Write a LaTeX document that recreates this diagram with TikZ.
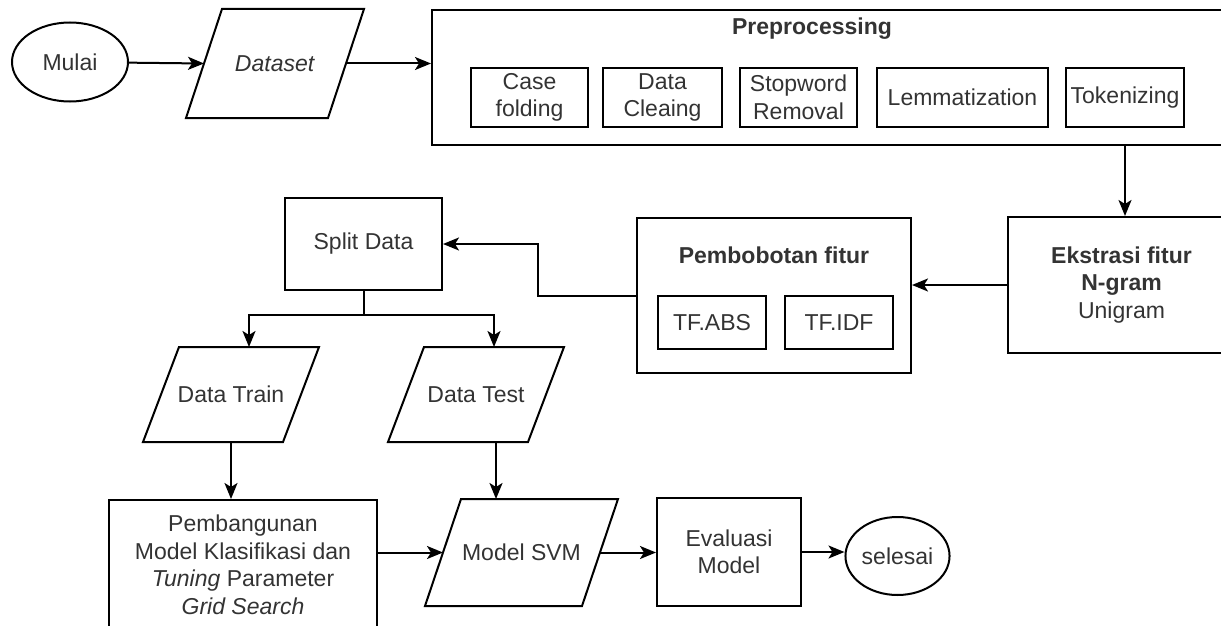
\documentclass[tikz,border=0pt]{standalone}
\usepackage{fontspec}
\setmainfont{Liberation Sans}
\usetikzlibrary{arrows.meta,positioning,shapes.geometric}

\begin{document}
\begin{tikzpicture}[x=1pt,y=-1pt,>={Stealth[length=16pt,width=13pt,inset=4pt]},
  line width=2pt,
  every node/.style={font=\fontsize{23}{27.5}\selectfont,text=black!80}]
  \tikzstyle{box}=[draw,rectangle,align=center,inner sep=2pt]
  \tikzstyle{io}=[rectangle,align=center,inner sep=2pt]
  \tikzstyle{term}=[draw,ellipse,inner sep=1pt]
  \tikzstyle{title}=[font=\fontsize{23}{27.5}\selectfont\bfseries]

  \useasboundingbox (0,0) rectangle (1221,626);

  \node[term,minimum width=116pt,minimum height=79pt] (mulai) at (70,62) {Mulai};
  \node[io,minimum width=176pt,minimum height=107pt] (dataset) at (275,63.5) {\textit{Dataset}};

  \node[box,minimum width=808pt,minimum height=135pt] (preproc) at (836,77.5) {};
  \node[title] (preproctitle) at (812,29) {Preprocessing};
  \node[box,minimum width=117pt,minimum height=59pt] (casefold) at (529.5,97.5) {Case\\folding};
  \node[box,minimum width=119pt,minimum height=59pt,right=13pt of casefold] (cleaning) {Data\\Cleaing};
  \node[box,minimum width=117pt,minimum height=59pt,right=16pt of cleaning] (stopword) {Stopword\\Removal};
  \node[box,minimum width=171pt,minimum height=59pt,right=18pt of stopword] (lemma) {Lemmatization};
  \node[box,minimum width=118pt,minimum height=59pt,right=16pt of lemma] (token) {Tokenizing};

  \node[box,minimum width=227pt,minimum height=136pt] (ekstrasi) at (1121.5,285)
    {\textbf{Ekstrasi fitur}\\\textbf{N-gram}\\Unigram};

  \node[box,minimum width=274pt,minimum height=155pt] (pembobot) at (774,295.5) {};
  \node[title] (pembobottitle) at (774,255) {Pembobotan fitur};
  \node[box,minimum width=108pt,minimum height=53pt] (tfabs) at (712,322.5) {TF.ABS};
  \node[box,minimum width=108pt,minimum height=53pt,right=17pt of tfabs] (tfidf) {TF.IDF};

  \node[box,minimum width=157pt,minimum height=92pt] (split) at (363.5,244) {Split Data};
  \node[io,minimum width=174pt,minimum height=93pt] (train) at (231,394.5) {Data Train};
  \node[io,minimum width=174pt,minimum height=93pt] (test) at (476,394.5) {Data Test};

  \node[box,minimum width=268pt,minimum height=130pt] (bangun) at (243,565)
    {Pembangunan\\Model Klasifikasi dan\\\textit{Tuning} Parameter\\\textit{Grid Search}};
  \node[io,minimum width=191pt,minimum height=105pt] (svm) at (521.5,552.5) {Model SVM};
  \node[box,minimum width=144pt,minimum height=108pt] (evaluasi) at (729,552) {Evaluasi\\Model};
  \node[term,minimum width=99pt,minimum height=78pt] (selesai) at (897.5,556) {selesai};

  \foreach \n in {dataset,train,test,svm}
    \draw ([xshift=36pt]\n.north west) -- (\n.north east) -- ([xshift=-36pt]\n.south east)
      -- (\n.south west) -- cycle;

  \draw[->] (mulai) -- ([xshift=18pt]dataset.west);
  \draw[->] ([xshift=-18pt]dataset.east) -- (dataset.east -| preproc.west);
  \draw[->] (token |- preproc.south) -- (token |- ekstrasi.north);
  \draw[->] (ekstrasi.west) -- (ekstrasi.west -| pembobot.east);
  \draw[->] (pembobot.west) -- ++(-98,0) |- (split.east);
  \draw (split.south) -- ++(0,24) coordinate (fork);
  \draw[->] (fork) -| ([xshift=18pt]train.north);
  \draw[->] (fork) -| ([xshift=18pt]test.north);
  \draw[->] (train.south) -- (train.south |- bangun.north);
  \draw[->] ([xshift=20pt]test.south) -- ([xshift=20pt]test.south |- svm.north);
  \draw[->] (svm.west -| bangun.east) -- ([xshift=18pt]svm.west);
  \draw[->] ([xshift=-18pt]svm.east) -- (svm.east -| evaluasi.west);
  \draw[->] (evaluasi.east) -- (evaluasi.east -| selesai.west);
\end{tikzpicture}
\end{document}
